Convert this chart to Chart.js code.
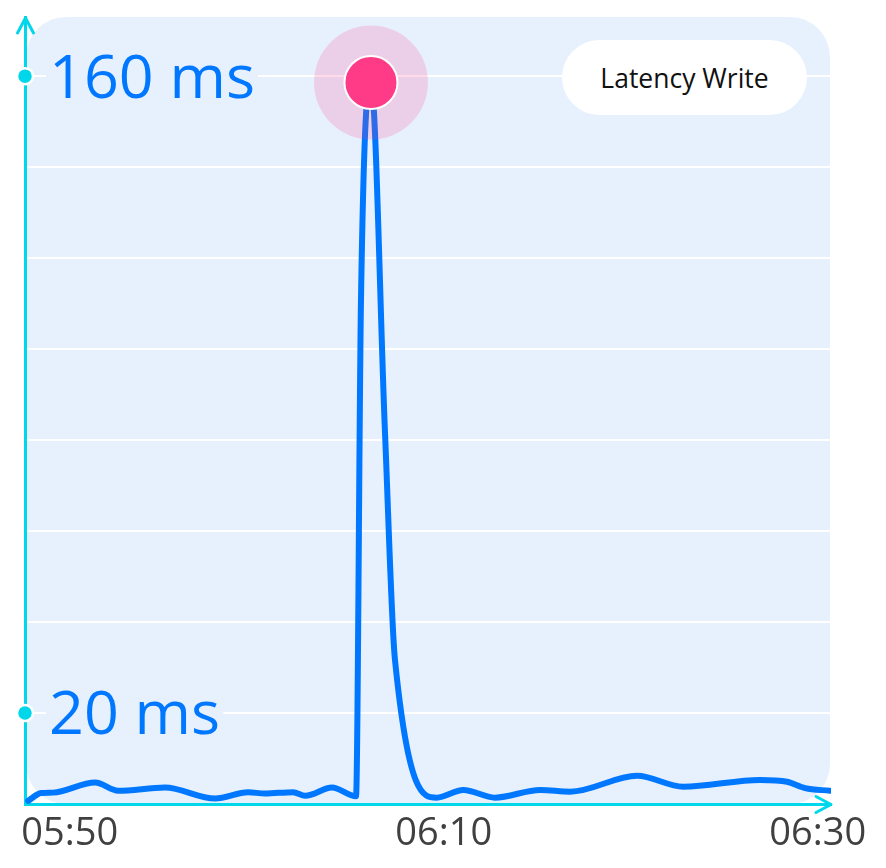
<!DOCTYPE html>
<html>
<head>
<meta charset="utf-8">
<script src="https://cdn.jsdelivr.net/npm/chart.js@4.4.1/dist/chart.umd.min.js"></script>
<style>
  html, body { margin: 0; padding: 0; background: #ffffff; }
  #wrap { position: relative; width: 886px; height: 868px; }
  #legend {
    position: absolute; left: 562px; top: 40px; width: 245px; height: 75px;
    border-radius: 37.5px; background: #ffffff;
    display: flex; align-items: center; justify-content: center;
    font-family: 'Open Sans', sans-serif; font-size: 26.5px; color: #111111;
  }
</style>
</head>
<body>
<div id="wrap">
  <canvas id="c" width="886" height="868"></canvas>
  <div id="legend"></div>
</div>
<script>
// ---- data ----
const seriesName = 'Latency Write';
const times = [
  '05:47:56', '05:48:38', '05:49:16', '05:51:31', '05:52:45', '05:55:15',
  '05:57:56', '05:59:42', '06:00:36', '06:02:06', '06:02:45', '06:04:11',
  '06:05:28', '06:05:44', '06:06:16', '06:07:01', '06:07:33', '06:09:47',
  '06:11:12', '06:12:54', '06:15:19', '06:16:55', '06:20:30', '06:22:58',
  '06:27:05', '06:28:31', '06:29:29', '06:30:49'
];
const latencyMs = [
  0.7, 2.4, 2.5, 4.7, 2.9, 3.6,
  1.2, 2.6, 2.3, 2.6, 1.8, 3.6,
  1.7, 110.9, 158.6, 81.7, 31.7, 1.4,
  3.1, 1.4, 3.1, 2.7, 6.2, 3.8,
  5.3, 4.9, 3.5, 2.9
];
const xTickLabels = ['05:50', '06:10', '06:30'];
const xRange = ['05:47:46', '06:30:52'];
const yGridTicks = [20, 40, 60, 80, 100, 120, 140, 160];
const yLabelTicks = [20, 160];
const yRange = [0, 173];
const yUnit = ' ms';

// ---- styling ----
const CYAN = '#00d7ea';
const BLUE = '#0077ff';
const PINK = '#ff3a86';
const PLOT_BG = '#e7f1fe';

const toMin = s => { const p = s.split(':').map(Number); return p[0] * 60 + p[1] + (p[2] || 0) / 60; };
const fmt = v => { const h = Math.floor(v / 60), m = Math.round(v - h * 60); return String(h).padStart(2, '0') + ':' + String(m).padStart(2, '0'); };

const xMin = toMin(xRange[0]), xMax = toMin(xRange[1]);
const linePts = times.map((t, i) => ({ x: toMin(t), y: latencyMs[i] }));
const peakIdx = latencyMs.indexOf(Math.max(...latencyMs));
const peakPt = [linePts[peakIdx]];
const axisDots = yLabelTicks.map(v => ({ x: xMin, y: v }));

document.getElementById('legend').textContent = seriesName;

const plotBg = {
  id: 'plotBg',
  beforeDraw(chart) {
    const { ctx, chartArea: a } = chart;
    const x = a.left + 1, y = a.top, w = a.right - 1 - x, h = a.bottom - y, r = 40;
    ctx.save();
    ctx.fillStyle = PLOT_BG;
    ctx.beginPath();
    ctx.roundRect(x, y, w, h, r);
    ctx.fill();
    ctx.restore();
  }
};

const arrows = {
  id: 'arrows',
  afterDraw(chart) {
    const { ctx, chartArea: a } = chart;
    const ax = Math.round(a.left) + 0.5, ay = Math.round(a.bottom) + 0.5;
    ctx.save();
    ctx.strokeStyle = CYAN;
    ctx.lineWidth = 3;
    ctx.lineCap = 'round';
    ctx.lineJoin = 'round';
    ctx.beginPath();
    ctx.moveTo(ax - 8, a.top + 16);
    ctx.lineTo(ax, a.top + 1);
    ctx.lineTo(ax + 8, a.top + 16);
    ctx.stroke();
    ctx.beginPath();
    ctx.moveTo(a.right - 15, ay - 8);
    ctx.lineTo(a.right, ay);
    ctx.lineTo(a.right - 15, ay + 8);
    ctx.stroke();
    ctx.restore();
  }
};

new Chart(document.getElementById('c'), {
  type: 'line',
  data: {
    datasets: [
      { label: 'peak', data: peakPt, showLine: false, order: 0, clip: false,
        pointRadius: 26.5, pointBackgroundColor: PINK, pointBorderColor: '#ffffff', pointBorderWidth: 2 },
      { label: 'halo', data: peakPt, showLine: false, order: 1, clip: false,
        pointRadius: 57, pointBackgroundColor: 'rgba(255,58,134,0.18)', pointBorderWidth: 0 },
      { label: seriesName, data: linePts, order: 2, borderColor: BLUE, borderWidth: 6,
        pointRadius: 0, cubicInterpolationMode: 'monotone', fill: false,
        borderCapStyle: 'round', borderJoinStyle: 'round' },
      { label: 'axisDots', data: axisDots, showLine: false, order: 3, clip: false,
        pointRadius: 8, pointBackgroundColor: CYAN, pointBorderColor: '#ffffff', pointBorderWidth: 2.5 }
    ]
  },
  options: {
    responsive: false,
    animation: false,
    devicePixelRatio: 1,
    layout: { autoPadding: false, padding: { top: 17, left: 25, right: 55, bottom: 0 } },
    plugins: { legend: { display: false }, tooltip: { enabled: false } },
    events: [],
    scales: {
      x: {
        type: 'linear', min: xMin, max: xMax,
        afterBuildTicks: s => { s.ticks = xTickLabels.map(l => ({ value: toMin(l) })); },
        afterFit: s => { s.height = 64; s.paddingLeft = 0; s.paddingRight = 0; },
        ticks: { callback: v => fmt(v), font: { family: 'Open Sans', size: 38 }, color: '#404040',
                 padding: 7, labelOffset: 3, maxRotation: 0, autoSkip: false },
        grid: { display: false, drawTicks: false },
        border: { display: true, color: CYAN, width: 3 }
      },
      y: {
        type: 'linear', min: yRange[0], max: yRange[1],
        afterBuildTicks: s => { s.ticks = yGridTicks.map(v => ({ value: v })); },
        afterFit: s => { s.width = 0; s.paddingTop = 0; s.paddingBottom = 0; },
        ticks: {
          mirror: true, padding: 24,
          // leading empty line + small line height nudges the text 4px below the tick
          callback: v => yLabelTicks.includes(v) ? ['', v + yUnit] : '',
          font: { family: 'Open Sans', size: 61, lineHeight: '8px' }, color: BLUE,
          showLabelBackdrop: true,
          backdropColor: c => yLabelTicks.includes(c.tick && c.tick.value) ? PLOT_BG : 'rgba(0,0,0,0)',
          backdropPadding: { left: 3, right: 3, top: 0, bottom: 0 }
        },
        grid: { color: '#ffffff', lineWidth: 2, drawTicks: false },
        border: { display: true, color: CYAN, width: 3 }
      }
    }
  },
  plugins: [plotBg, arrows]
});
</script>
</body>
</html>
